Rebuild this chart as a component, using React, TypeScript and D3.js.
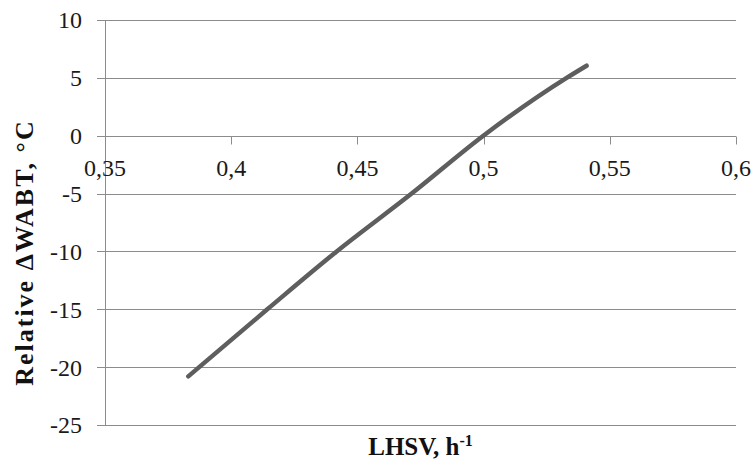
import * as d3 from "d3";
import { useEffect, useRef } from "react";

// values
const lhsv = [0.383, 0.4143, 0.4418, 0.4715, 0.4999, 0.5329, 0.5408];
const dWabt = [-20.8, -15, -10, -5, 0, 5, 6.05];
const xTicks = [0.35, 0.4, 0.45, 0.5, 0.55, 0.6];
const yTicks = [10, 5, 0, -5, -10, -15, -20, -25];

const W = 756;
const H = 461;
const FONT = "'Liberation Serif', 'Times New Roman', serif";

function App() {
  const ref = useRef<SVGSVGElement>(null);

  useEffect(() => {
    const svg = d3.select(ref.current);
    svg.selectAll("*").remove();

    const left = 105, right = 736, top = 20, bottom = 425;
    const x = d3.scaleLinear().domain([0.35, 0.6]).range([left, right]);
    const y = d3.scaleLinear().domain([-25, 10]).range([bottom, top]);
    const grid = "#8c8c8c";
    const fmt = (v: number) => String(v).replace(".", ",");

    // horizontal gridlines with small ticks on the left
    svg.append("g")
      .selectAll("line")
      .data(yTicks)
      .enter()
      .append("line")
      .attr("x1", left - 8)
      .attr("x2", right)
      .attr("y1", (d) => Math.round(y(d)) + 0.5)
      .attr("y2", (d) => Math.round(y(d)) + 0.5)
      .attr("stroke", grid)
      .attr("stroke-width", 1);

    // vertical axis line
    svg.append("line")
      .attr("x1", left + 0.5)
      .attr("x2", left + 0.5)
      .attr("y1", top)
      .attr("y2", bottom)
      .attr("stroke", grid);

    // x axis at zero, ticks hang down
    const y0 = Math.round(y(0)) + 0.5;
    svg.append("g")
      .selectAll("line")
      .data(xTicks)
      .enter()
      .append("line")
      .attr("x1", (d) => Math.round(x(d)) + 0.5)
      .attr("x2", (d) => Math.round(x(d)) + 0.5)
      .attr("y1", y0)
      .attr("y2", y0 + 8)
      .attr("stroke", grid);

    svg.append("g")
      .selectAll("text")
      .data(yTicks)
      .enter()
      .append("text")
      .attr("x", 82)
      .attr("y", (d) => y(d))
      .attr("dy", "0.35em")
      .attr("text-anchor", "end")
      .attr("font-family", FONT)
      .attr("font-size", 24)
      .attr("fill", "#1a1a1a")
      .text((d) => fmt(d));

    svg.append("g")
      .selectAll("text")
      .data(xTicks)
      .enter()
      .append("text")
      .attr("x", (d) => x(d))
      .attr("y", 176)
      .attr("text-anchor", "middle")
      .attr("font-family", FONT)
      .attr("font-size", 24)
      .attr("fill", "#1a1a1a")
      .text((d) => fmt(d));

    const line = d3
      .line<number>()
      .x((d) => x(d))
      .y((_, i) => y(dWabt[i]))
      .curve(d3.curveMonotoneX);

    svg.append("path")
      .datum(lhsv)
      .attr("d", line)
      .attr("fill", "none")
      .attr("stroke", "#5e5e5e")
      .attr("stroke-width", 4.5)
      .attr("stroke-linecap", "round");

    // axis titles
    const xt = svg.append("text")
      .attr("x", (left + right) / 2)
      .attr("y", 455)
      .attr("text-anchor", "middle")
      .attr("font-family", FONT)
      .attr("font-weight", "bold")
      .attr("font-size", 25)
      .attr("fill", "#111");
    xt.append("tspan").text("LHSV, h");
    xt.append("tspan").attr("dy", -9).attr("font-size", 16).text("-1");

    svg.append("text")
      .attr("transform", `translate(33, ${(top + bottom) / 2 + 30}) rotate(-90)`)
      .attr("text-anchor", "middle")
      .attr("font-family", FONT)
      .attr("font-weight", "bold")
      .attr("font-size", 26)
      .attr("letter-spacing", 2)
      .attr("fill", "#111")
      .text("Relative ΔWABT, °C");
  }, []);

  return (
    <svg
      ref={ref}
      width={W}
      height={H}
      style={{ position: "absolute", left: 0, top: 0, background: "#fff" }}
    />
  );
}

export default App;
